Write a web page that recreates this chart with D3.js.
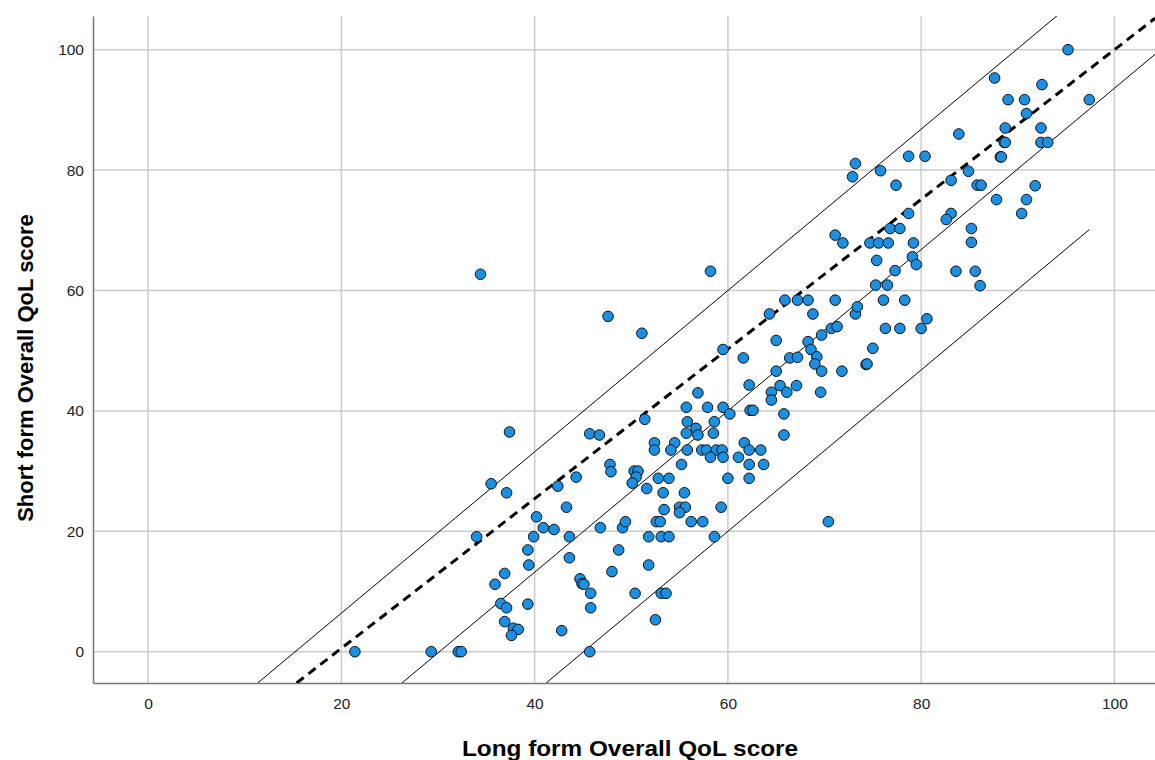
<!DOCTYPE html>
<html>
<head>
<meta charset="utf-8">
<script src="https://cdn.jsdelivr.net/npm/d3@7"></script>
<style>
body { margin: 0; background: #fff; }
svg { display: block; }
text { font-family: "Liberation Sans", Arial, sans-serif; }
</style>
</head>
<body>
<svg id="chart"></svg>
<script>
// valores (long form = x, short form = y)
var longForm = [21.4,29.3,32.1,32.4,45.7,37.4,34.4,35.5,37.1,34.0,39.3,39.4,36.9,35.9,36.5,37.1,39.3,36.9,37.8,38.3,
	37.6,47.6,51.1,59.5,61.6,62.2,56.9,55.7,57.9,59.5,60.2,62.3,62.6,51.4,55.8,56.7,58.6,55.7,56.9,58.5,
	45.7,46.7,52.4,54.5,61.7,52.4,54.1,55.8,57.3,57.8,58.8,59.4,62.2,63.4,58.2,59.5,61.1,47.8,55.2,62.2,
	63.7,47.9,50.3,50.7,50.5,50.1,44.3,42.4,52.8,53.9,60.0,62.2,51.6,53.3,55.5,43.3,53.4,55.0,55.6,55.0,
	59.3,40.2,40.9,42.0,39.9,43.6,46.8,49.1,49.4,52.6,53.0,56.2,57.4,51.8,53.1,53.9,58.6,43.6,48.7,51.8,
	48.0,44.7,44.9,45.1,45.8,50.4,53.1,53.6,45.8,42.8,52.5,70.4,58.2,65.9,67.2,68.3,71.1,76.1,78.3,64.3,
	68.8,73.2,73.4,65.0,68.3,68.6,69.2,69.0,69.7,69.7,66.4,67.2,65.0,64.5,65.4,66.1,67.1,64.5,69.6,65.8,
	65.8,70.7,71.3,75.0,74.3,74.4,71.8,76.3,77.8,80.0,80.6,75.3,76.5,75.4,77.3,79.1,79.5,71.1,71.9,74.7,
	75.6,76.6,79.2,76.8,77.8,85.2,85.2,78.7,83.1,82.6,90.4,83.6,85.6,86.1,73.2,72.9,75.8,78.7,80.4,77.4,
	83.1,84.9,85.8,86.2,87.8,90.9,91.8,83.9,88.2,88.3,88.6,88.7,92.4,93.1,88.7,92.4,90.9,89.0,90.7,97.4,
	87.6,92.5,95.2];
var shortForm = [0,0,0,0,0,36.5,62.7,27.9,26.4,19.1,16.9,14.4,13.0,11.2,8.0,7.3,7.9,5.0,3.9,3.7,
	2.7,55.7,52.9,50.2,48.8,44.3,43.0,40.6,40.6,40.6,39.5,40.1,40.1,38.6,38.2,37.1,38.2,36.3,36.0,36.3,
	36.2,36.0,34.7,34.7,34.7,33.5,33.5,33.5,33.5,33.5,33.5,33.5,33.5,33.5,32.3,32.3,32.3,31.1,31.1,31.1,
	31.1,29.9,30.0,30.0,29.0,28.0,29.0,27.5,28.8,28.8,28.8,28.8,27.1,26.4,26.4,24.0,23.6,24.0,24.0,23.1,
	24.0,22.4,20.6,20.3,19.1,19.1,20.6,20.6,21.6,21.6,21.6,21.6,21.6,19.1,19.1,19.1,19.1,15.6,16.9,14.4,
	13.3,12.1,11.3,11.2,9.7,9.7,9.7,9.7,7.3,3.5,5.3,21.6,63.2,58.4,58.4,58.4,58.4,58.4,58.4,56.1,
	56.1,56.1,57.3,51.7,51.5,50.2,49.0,47.8,46.6,52.6,48.8,48.9,46.6,43.1,44.2,43.1,44.2,41.8,43.1,39.5,
	36.0,53.7,54.0,50.4,47.7,47.8,46.6,53.7,53.7,53.7,55.3,60.9,60.9,65.0,63.3,65.6,64.3,69.2,67.9,67.9,
	67.9,67.9,67.9,70.3,70.3,70.3,68.0,72.8,72.8,71.8,72.8,63.2,63.2,60.8,81.1,78.9,79.9,82.3,82.3,77.5,
	78.3,79.8,77.5,77.5,75.1,75.1,77.4,86.0,82.2,82.2,84.6,84.6,84.6,84.6,87.0,87.0,89.4,91.7,91.7,91.7,
	95.3,94.2,100];

var xTicks = [0, 20, 40, 60, 80, 100];
var yTicks = [0, 20, 40, 60, 80, 100];

// rectas: superior, central, inferior (solidas) y la discontinua
var lineNames = ["upper", "middle", "lower", "dashed"];
var lineSlopes = [1.34, 1.34, 1.34, 1.243];
var lineIntercepts = [-20.4, -40.4, -60.4, -24.3];
var lineXEnd = [97.4, 104.2, 97.4, 104.2];

function dibujar() {
	var W = 1155, H = 760;
	var mLeft = 93, mRight = 1155, mTop = 16, mBottom = 683;

	var svg = d3.select("#chart").attr("width", W).attr("height", H);

	var x = d3.scaleLinear().domain([-5.7, 104.2]).range([mLeft, mRight]);
	var y = d3.scaleLinear().domain([-5.2, 105.6]).range([mBottom, mTop]);

	svg.append("defs").append("clipPath").attr("id", "plotclip")
		.append("rect").attr("x", mLeft).attr("y", mTop)
		.attr("width", mRight - mLeft).attr("height", mBottom - mTop);

	// rejilla
	svg.append("g").selectAll("line").data(xTicks).enter().append("line")
		.attr("x1", function(d){ return x(d); }).attr("x2", function(d){ return x(d); })
		.attr("y1", mTop).attr("y2", mBottom)
		.attr("stroke", "#cbcbcb").attr("stroke-width", 1.5);
	svg.append("g").selectAll("line").data(yTicks).enter().append("line")
		.attr("x1", mLeft).attr("x2", mRight)
		.attr("y1", function(d){ return y(d); }).attr("y2", function(d){ return y(d); })
		.attr("stroke", "#cbcbcb").attr("stroke-width", 1.5);

	// ejes
	var xAxis = svg.append("g").attr("transform", "translate(0," + mBottom + ")")
		.call(d3.axisBottom(x).tickValues(xTicks).tickSize(0).tickPadding(15).tickFormat(d3.format("d")));
	var yAxis = svg.append("g").attr("transform", "translate(" + mLeft + ",0)")
		.call(d3.axisLeft(y).tickValues(yTicks).tickSize(0).tickPadding(9).tickFormat(d3.format("d")));
	[xAxis, yAxis].forEach(function(a){
		a.attr("font-size", null).attr("font-family", null);
		a.select(".domain").attr("stroke", "#777").attr("stroke-width", 1.5);
		a.selectAll("text").style("font-size", "15.5px").attr("fill", "#222");
	});

	// rectas
	var lineG = svg.append("g").attr("clip-path", "url(#plotclip)");
	var ymin = y.domain()[0];
	lineNames.forEach(function(n, i){
		var m = lineSlopes[i], b = lineIntercepts[i];
		var x0 = (ymin - b) / m, x1 = lineXEnd[i];
		lineG.append("line")
			.attr("x1", x(x0)).attr("y1", y(m * x0 + b))
			.attr("x2", x(x1)).attr("y2", y(m * x1 + b))
			.attr("stroke", "#000")
			.attr("stroke-width", n == "dashed" ? 3 : 1)
			.attr("stroke-dasharray", n == "dashed" ? "9,6" : null);
	});

	// puntos
	svg.append("g").attr("clip-path", "url(#plotclip)")
		.selectAll("circle").data(longForm).enter().append("circle")
		.attr("cx", function(d){ return x(d); })
		.attr("cy", function(d, i){ return y(shortForm[i]); })
		.attr("r", 5.3)
		.attr("fill", "#1b8fe2")
		.attr("stroke", "#111")
		.attr("stroke-width", 1);

	// titulos
	svg.append("text")
		.attr("x", 630).attr("y", 756)
		.attr("text-anchor", "middle")
		.attr("textLength", 336).attr("lengthAdjust", "spacingAndGlyphs")
		.style("font-size", "22px").attr("font-weight", "bold").attr("fill", "#000")
		.text("Long form Overall QoL score");
	svg.append("text")
		.attr("transform", "translate(33,368) rotate(-90)")
		.attr("text-anchor", "middle")
		.style("font-size", "22px").attr("font-weight", "bold").attr("fill", "#000")
		.text("Short form Overall QoL score");
}

dibujar();
</script>
</body>
</html>
